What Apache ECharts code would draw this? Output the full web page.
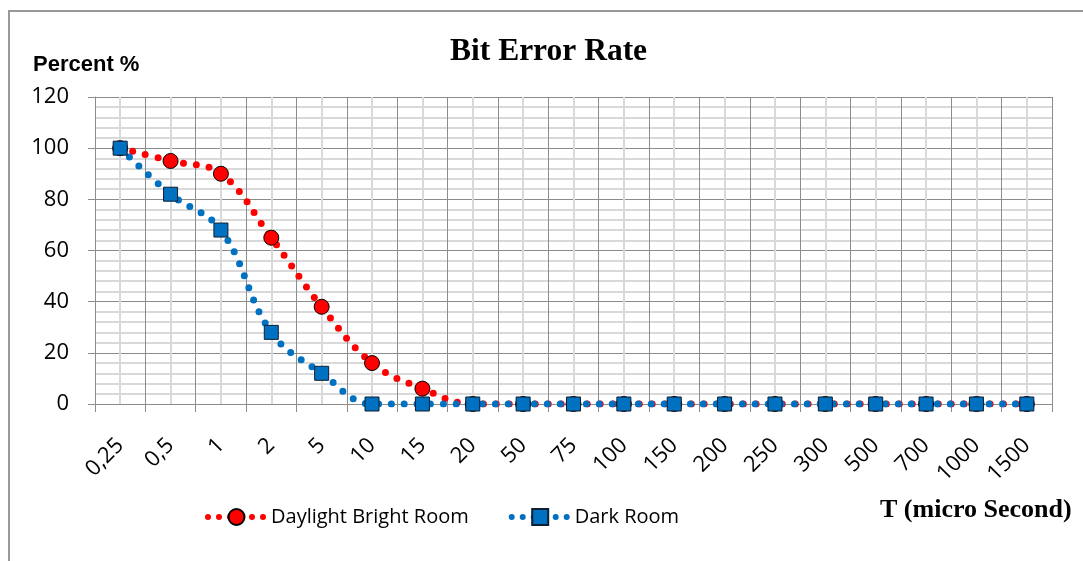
<!DOCTYPE html>
<html>
<head>
<meta charset="utf-8">
<script src="https://cdn.jsdelivr.net/npm/echarts@6/dist/echarts.min.js"></script>
<style>
  html, body { margin: 0; padding: 0; background: #fff; }
  #chart { width: 1083px; height: 561px; }
</style>
</head>
<body>
<div id="chart"></div>
<script>
// categories on the T axis (micro second)
var categories = ['0,25', '0,5', '1', '2', '5', '10', '15', '20', '50', '75', '100',
  '150', '200', '250', '300', '500', '700', '1000', '1500'];
// bit error rate, percent
var daylightValues = [100, 95, 90, 65, 38, 16, 6, 0, 0, 0, 0, 0, 0, 0, 0, 0, 0, 0, 0];
var darkValues = [100, 82, 68, 28, 12, 0, 0, 0, 0, 0, 0, 0, 0, 0, 0, 0, 0, 0, 0];
var yTicks = [0, 20, 40, 60, 80, 100, 120];

var labelFont = 'Open Sans';
var majorGrid = '#8c8c8c';
var minorGrid = '#d9d9d9';

var chart = echarts.init(document.getElementById('chart'));

// round dots like the excel "round dot" dash
var dotted = function(color) {
  return { color: color, width: 7, type: [0, 13], cap: 'round' };
};

chart.setOption({
  animation: false,
  backgroundColor: '#fff',
  title: [{
    text: 'Bit Error Rate',
    left: 445,
    top: 31,
    textStyle: { fontFamily: 'Liberation Serif', fontWeight: 'bold', fontSize: 31.5, color: '#000' }
  }, {
    text: 'Percent %',
    left: 28,
    top: 49,
    textStyle: { fontFamily: 'Liberation Sans', fontWeight: 'bold', fontSize: 22, color: '#000' }
  }, {
    text: 'T (micro Second)',
    left: 875,
    top: 492,
    textStyle: { fontFamily: 'Liberation Serif', fontWeight: 'bold', fontSize: 26, color: '#000' }
  }],
  legend: {
    left: 200,
    top: 502,
    itemWidth: 57,
    itemHeight: 20,
    itemGap: 40,
    lineStyle: { width: 6, type: [0, 11], cap: 'round' },
    textStyle: { fontFamily: labelFont, fontSize: 20, color: '#000', padding: [0, 0, 0, 1] },
    data: ['Daylight Bright Room', 'Dark Room']
  },
  graphic: [{
    type: 'rect',
    shape: { x: 9, y: 11, width: 1100, height: 600 },
    style: { fill: 'none', stroke: '#999', lineWidth: 2 },
    silent: true
  }],
  grid: { left: 95, right: 31, top: 97, bottom: 157 },
  xAxis: [{
    type: 'category',
    data: categories,
    boundaryGap: true,
    axisLine: { show: true, lineStyle: { color: majorGrid, width: 1 } },
    axisTick: { show: true, interval: 0, length: 8, lineStyle: { color: majorGrid } },
    axisLabel: {
      interval: 0, rotate: 45, margin: 38,
      fontFamily: labelFont, fontSize: 22, color: '#000'
    },
    splitLine: { show: false }
  }, {
    // grid helper: major lines at category edges, minor at centres
    type: 'value',
    position: 'top',
    min: 0,
    max: categories.length,
    interval: 1,
    axisLine: { show: false },
    axisTick: { show: false },
    axisLabel: { show: false },
    minorTick: { show: false, splitNumber: 2 },
    splitLine: { show: true, lineStyle: { color: majorGrid, width: 1 } },
    minorSplitLine: { show: true, lineStyle: { color: minorGrid, width: 2 } }
  }],
  yAxis: {
    type: 'value',
    min: yTicks[0],
    max: yTicks[yTicks.length - 1],
    interval: yTicks[1] - yTicks[0],
    axisLine: { show: true, lineStyle: { color: majorGrid } },
    axisTick: { show: true, length: 7, lineStyle: { color: majorGrid } },
    axisLabel: { margin: 26, fontFamily: labelFont, fontSize: 22, color: '#000' },
    minorTick: { show: false, splitNumber: 5 },
    splitLine: { show: true, lineStyle: { color: majorGrid, width: 1 } },
    minorSplitLine: { show: true, lineStyle: { color: minorGrid, width: 2 } }
  },
  series: [{
    name: 'Daylight Bright Room',
    type: 'line',
    data: daylightValues,
    smooth: 0.4,
    symbol: 'circle',
    symbolSize: 15,
    itemStyle: { color: '#ff0000', borderColor: '#000', borderWidth: 1 },
    lineStyle: dotted('#ff0000'),
    z: 2
  }, {
    name: 'Dark Room',
    type: 'line',
    data: darkValues,
    smooth: 0.4,
    symbol: 'rect',
    symbolSize: 14,
    itemStyle: { color: '#0070c0', borderColor: '#0d1f33', borderWidth: 1 },
    lineStyle: dotted('#0070c0'),
    z: 3
  }]
});
</script>
</body>
</html>
